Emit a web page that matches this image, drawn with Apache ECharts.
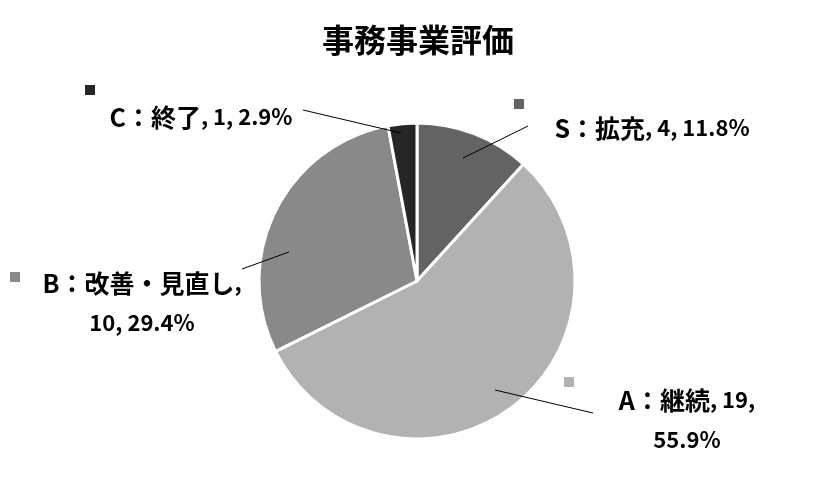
<!DOCTYPE html>
<html>
<head>
<meta charset="utf-8">
<script src="https://cdn.jsdelivr.net/npm/echarts@6/dist/echarts.min.js"></script>
<style>
  html, body { margin: 0; padding: 0; background: #fff; }
  #chart { width: 836px; height: 484px; }
</style>
</head>
<body>
<div id="chart"></div>
<script>
// Evaluation results of administrative programmes
const categories = ['S：拡充', 'A：継続', 'B：改善・見直し', 'C：終了'];
const counts = [4, 19, 10, 1];

// Slice colours, in category order
const sliceColors = ['#636363', '#b2b2b2', '#898989', '#262626'];

// Label layout: text centre, where the text wraps, leader line ends, key square top-left
// wrap: 0 = single line, 1 = after the name, 2 = after the count
const labelPlacement = [
  { x: 652, y: 128, wrap: 0, line: [[463, 158], [528, 126]], key: [514, 99] },
  { x: 687, y: 420, wrap: 2, line: [[495, 390], [593, 413]], key: [564, 377] },
  { x: 142, y: 303, wrap: 1, line: [[289, 252], [242, 269]], key: [10, 272] },
  { x: 201, y: 117, wrap: 0, line: [[401, 133], [303, 110]], key: [85, 85] }
];

const FONT = '"Noto Sans CJK JP", "Noto Sans", sans-serif';
const CENTER = [417, 281];
const RADIUS = 158;

const pieData = categories.map((name, i) => ({
  name: name,
  value: counts[i],
  itemStyle: { color: sliceColors[i] }
}));

// Same values, drawn invisibly so labels and leader lines sit above every slice
const overlayData = categories.map((name, i) => ({
  name: name,
  value: counts[i],
  itemStyle: { color: 'rgba(0,0,0,0)' }
}));

function labelText(p) {
  const wrap = labelPlacement[p.dataIndex].wrap;
  const pct = p.percent.toFixed(1) + '%';
  const n = '{n|' + p.name + '}';
  if (wrap === 1) return n + '{v|,}\n{v|' + p.value + ', ' + pct + '}';
  if (wrap === 2) return n + '{v|, ' + p.value + ',}\n{v|' + pct + '}';
  return n + '{v|, ' + p.value + ', ' + pct + '}';
}

const chart = echarts.init(document.getElementById('chart'), null, { renderer: 'canvas' });

chart.setOption({
  backgroundColor: '#ffffff',
  animation: false,
  title: {
    text: '事務事業評価',
    left: 'center',
    top: 19,
    textStyle: { fontFamily: FONT, fontSize: 32, fontWeight: 'bold', color: '#000' }
  },
  series: [
    {
      type: 'pie',
      center: CENTER,
      radius: [0, RADIUS],
      startAngle: 90,
      clockwise: true,
      data: pieData,
      itemStyle: { borderColor: '#ffffff', borderWidth: 3 },
      emphasis: { disabled: true },
      label: { show: false },
      labelLine: { show: false },
      z: 2
    },
    {
      // Category labels with leader lines
      type: 'pie',
      center: CENTER,
      radius: [0, RADIUS],
      startAngle: 90,
      clockwise: true,
      silent: true,
      percentPrecision: 1,
      avoidLabelOverlap: false,
      data: overlayData,
      itemStyle: { borderWidth: 0 },
      emphasis: { disabled: true },
      label: {
        show: true,
        position: 'outside',
        formatter: labelText,
        color: '#000',
        align: 'center',
        rich: {
          n: { fontFamily: FONT, fontSize: 25, fontWeight: 'bold', color: '#000', lineHeight: 40 },
          v: { fontFamily: FONT, fontSize: 22, fontWeight: 'bold', color: '#000', lineHeight: 40 }
        }
      },
      labelLine: {
        show: true,
        length: 10,
        length2: 10,
        lineStyle: { color: '#000', width: 1 }
      },
      labelLayout: function (params) {
        const lp = labelPlacement[params.dataIndex];
        return {
          x: lp.x,
          y: lp.y,
          align: 'center',
          verticalAlign: 'middle',
          labelLinePoints: lp.line
        };
      },
      z: 3
    },
    {
      // Colour key squares beside each label
      type: 'pie',
      center: CENTER,
      radius: [0, RADIUS],
      startAngle: 90,
      clockwise: true,
      silent: true,
      avoidLabelOverlap: false,
      data: overlayData.map((d, i) => ({
        name: d.name,
        value: d.value,
        itemStyle: d.itemStyle,
        label: { rich: { sq: { width: 10, height: 10, backgroundColor: sliceColors[i] } } }
      })),
      itemStyle: { borderWidth: 0 },
      emphasis: { disabled: true },
      label: { show: true, position: 'outside', formatter: '{sq|}' },
      labelLine: { show: false },
      labelLayout: function (params) {
        const lp = labelPlacement[params.dataIndex];
        return { x: lp.key[0], y: lp.key[1], align: 'left', verticalAlign: 'top' };
      },
      z: 4
    }
  ]
});
</script>
</body>
</html>
